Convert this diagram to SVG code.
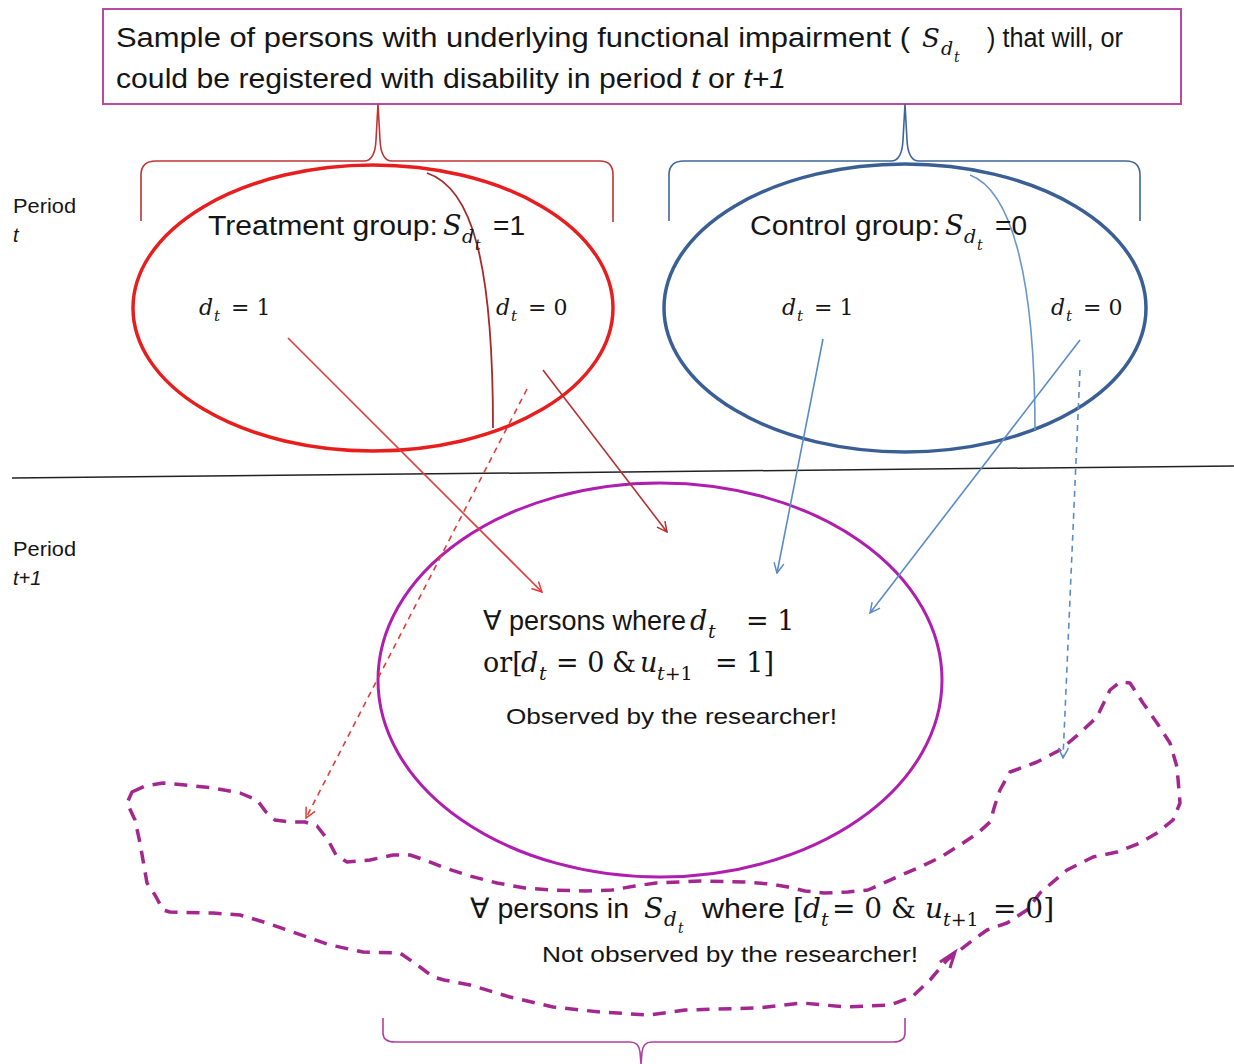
<svg xmlns="http://www.w3.org/2000/svg" width="1234" height="1064" viewBox="0 0 1234 1064">
<style>
.sans{font-family:"Liberation Sans","DejaVu Sans",sans-serif;fill:#151515}
.mi{font-family:"DejaVu Serif","Liberation Serif",serif;font-style:italic;fill:#151515}
.mr{font-family:"DejaVu Serif","Liberation Serif",serif;fill:#151515}
.it{font-style:italic}
</style>
<defs>
<marker id="ar" viewBox="0 0 12 12" refX="11" refY="6" markerWidth="12" markerHeight="12" markerUnits="userSpaceOnUse" orient="auto"><path d="M1,1 L11,6 L1,11" fill="none" stroke="#e33a3a" stroke-width="1.5"/></marker>
<marker id="ad" viewBox="0 0 12 12" refX="11" refY="6" markerWidth="12" markerHeight="12" markerUnits="userSpaceOnUse" orient="auto"><path d="M1,1 L11,6 L1,11" fill="none" stroke="#b83030" stroke-width="1.5"/></marker>
<marker id="ab" viewBox="0 0 12 12" refX="11" refY="6" markerWidth="12" markerHeight="12" markerUnits="userSpaceOnUse" orient="auto"><path d="M1,1 L11,6 L1,11" fill="none" stroke="#5a8bc8" stroke-width="1.5"/></marker>
</defs>
<rect width="1234" height="1064" fill="#fff"/>

<g id="top-box">
<rect x="103" y="9" width="1078" height="95" fill="#fff" stroke="#b84aa5" stroke-width="2"/>
<text class="sans" x="116" y="47" font-size="27" textLength="794" lengthAdjust="spacingAndGlyphs">Sample of persons with underlying functional impairment (</text>
<text class="mi" x="922" y="47" font-size="26">S</text>
<text class="mi" x="941" y="55" font-size="19">d</text>
<text class="mi" x="954" y="62" font-size="14">t</text>
<text class="sans" x="987" y="47" font-size="27" textLength="136" lengthAdjust="spacingAndGlyphs">) that will, or</text>
<text class="sans" x="116" y="88" font-size="27" textLength="670" lengthAdjust="spacingAndGlyphs">could be registered with disability in period <tspan class="it">t</tspan> or <tspan class="it">t+1</tspan></text>
</g>

<g id="period-labels">
<text class="sans" x="13" y="213" font-size="20" textLength="63" lengthAdjust="spacingAndGlyphs">Period</text>
<text class="sans it" x="13" y="242" font-size="20">t</text>
<text class="sans" x="13" y="556" font-size="20" textLength="63" lengthAdjust="spacingAndGlyphs">Period</text>
<text class="sans it" x="13" y="585" font-size="20">t+1</text>
</g>

<g id="divider">
<line x1="12" y1="478" x2="1234" y2="466" stroke="#222" stroke-width="1.5"/>
</g>

<g id="braces" fill="none" stroke-width="1.6">
<path d="M141,221 L141,175 Q141,161 156,161 L364,161 Q375,161 376,140 L378,104 L380,140 Q381,161 392,161 L600,161 Q613,161 613,175 L613,222" stroke="#c03434"/>
<path d="M669,221 L669,175 Q669,161 684,161 L891,161 Q902,161 903,140 L905,104 L907,140 Q908,161 919,161 L1126,161 Q1140,161 1140,175 L1140,221" stroke="#3f6699"/>
<path d="M383,1018 L383,1033 Q383,1042 395,1042 L630,1042 Q639,1042 640,1052 L641,1064 L642,1052 Q643,1042 652,1042 L893,1042 Q905,1042 905,1033 L905,1018" stroke="#b040a0"/>
</g>

<g id="treatment-group">
<ellipse cx="373" cy="308" rx="240" ry="143" fill="none" stroke="#e81e1e" stroke-width="3.5"/>
<path d="M427,173 C472,188 493,262 493,428" fill="none" stroke="#a52a2a" stroke-width="1.8"/>
<text class="sans" x="208" y="235" font-size="27" textLength="230" lengthAdjust="spacingAndGlyphs">Treatment group:</text>
<text class="mi" x="443" y="235" font-size="27">S</text>
<text class="mi" x="462" y="243" font-size="19">d</text>
<text class="mi" x="475" y="250" font-size="14">t</text>
<text class="sans" x="493" y="235" font-size="27" textLength="32" lengthAdjust="spacingAndGlyphs">=1</text>
<text class="mi" x="199" y="315" font-size="22">d</text>
<text class="mi" x="214" y="321" font-size="15">t</text>
<text class="mr" x="231" y="315" font-size="22">= 1</text>
<text class="mi" x="496" y="315" font-size="22">d</text>
<text class="mi" x="511" y="321" font-size="15">t</text>
<text class="mr" x="528" y="315" font-size="22">= 0</text>
</g>

<g id="control-group">
<ellipse cx="905" cy="308" rx="241" ry="144" fill="none" stroke="#3a5f94" stroke-width="3.5"/>
<path d="M970,175 C1010,190 1035,272 1035,430" fill="none" stroke="#6a96cc" stroke-width="1.6"/>
<text class="sans" x="750" y="235" font-size="27" textLength="190" lengthAdjust="spacingAndGlyphs">Control group:</text>
<text class="mi" x="945" y="235" font-size="27">S</text>
<text class="mi" x="964" y="243" font-size="19">d</text>
<text class="mi" x="977" y="250" font-size="14">t</text>
<text class="sans" x="995" y="235" font-size="27" textLength="32" lengthAdjust="spacingAndGlyphs">=0</text>
<text class="mi" x="782" y="315" font-size="22">d</text>
<text class="mi" x="797" y="321" font-size="15">t</text>
<text class="mr" x="814" y="315" font-size="22">= 1</text>
<text class="mi" x="1051" y="315" font-size="22">d</text>
<text class="mi" x="1066" y="321" font-size="15">t</text>
<text class="mr" x="1083" y="315" font-size="22">= 0</text>
</g>

<g id="observed">
<ellipse cx="660" cy="680" rx="282" ry="197" fill="none" stroke="#b01eb0" stroke-width="3"/>
<text class="sans" x="483" y="630" font-size="27" textLength="203" lengthAdjust="spacingAndGlyphs">∀ persons where</text>
<text class="mi" x="690" y="630" font-size="27">d</text>
<text class="mi" x="708" y="638" font-size="19">t</text>
<text class="mr" x="746" y="630" font-size="27">= 1</text>
<text class="mr" x="483" y="672" font-size="27">or[<tspan class="it" x="521">d</tspan><tspan class="it" x="539" y="680" font-size="19">t</tspan><tspan x="556" y="672">= 0</tspan><tspan x="612">&amp;</tspan><tspan class="it" x="640">u</tspan><tspan x="657" y="680" font-size="19"><tspan class="it">t</tspan>+1</tspan><tspan x="715" y="672">= 1]</tspan></text>
<text class="sans" x="506" y="724" font-size="22" textLength="331" lengthAdjust="spacingAndGlyphs">Observed by the researcher!</text>
</g>

<g id="not-observed">
<path d="M132,792 L145,786 L163,783 L185,785 L213,788 L240,793 L257,800 L266,812 L275,820 L290,822 L305,822 L317,826 L328,840 L336,855 L347,862 L370,860 L393,855 L410,855 L425,860 L445,868 L470,876 L497,883 L525,888 L553,890 L585,891 L612,890 L635,886 L656,883 L700,881 L744,882 L770,884 L788,887 L805,891 L824,893 L848,892 L868,890 L897,877 L920,867 L941,857 L960,845 L978,833 L990,822 L995,805 L1000,790 L1010,772 L1037,762 L1060,750 L1080,733 L1097,717 L1110,690 L1120,682 L1130,683 L1143,703 L1157,723 L1170,743 L1177,767 L1180,803 L1173,820 L1157,833 L1140,843 L1117,852 L1093,857 L1067,870 L1040,893 L1027,910 L1007,923 L987,930 L973,940 L947,960 L930,980 L912,997 L890,1005 L846,1007 L802,1003 L758,1008 L685,1010 L649,1015 L600,1012 L553,1007 L510,997 L470,985 L444,980 L433,977 L420,967 L400,953 L363,952 L330,945 L307,937 L267,923 L240,915 L213,913 L170,912 L163,910 L155,895 L147,883 L140,843 L135,820 L127,803 Z" fill="none" stroke="#a3278f" stroke-width="3.5" stroke-dasharray="13 9" stroke-linejoin="round"/>
<path d="M940,962 L955,952 L950,968" fill="none" stroke="#a3278f" stroke-width="3"/>
<text class="sans" x="470" y="918" font-size="28" textLength="159" lengthAdjust="spacingAndGlyphs">∀ persons in</text>
<text class="mi" x="644" y="918" font-size="28">S</text>
<text class="mi" x="664" y="926" font-size="20">d</text>
<text class="mi" x="678" y="933" font-size="14">t</text>
<text class="sans" x="702" y="918" font-size="28" textLength="83" lengthAdjust="spacingAndGlyphs">where</text>
<text class="mr" x="793" y="918" font-size="28">[<tspan class="it" x="803">d</tspan><tspan class="it" x="821" y="926" font-size="19">t</tspan><tspan x="832" y="918">= 0</tspan><tspan x="891">&amp;</tspan><tspan class="it" x="925">u</tspan><tspan x="943" y="926" font-size="19"><tspan class="it">t</tspan>+1</tspan><tspan x="993" y="918">= 0]</tspan></text>
<text class="sans" x="542" y="962" font-size="22" textLength="376" lengthAdjust="spacingAndGlyphs">Not observed by the researcher!</text>
</g>

<g id="connectors" fill="none">
<line x1="288" y1="338" x2="542" y2="592" stroke="#e33a3a" stroke-width="1.6" marker-end="url(#ar)"/>
<line x1="543" y1="370" x2="667" y2="532" stroke="#b83030" stroke-width="1.6" marker-end="url(#ad)"/>
<line x1="527" y1="389" x2="306" y2="818" stroke="#e33a3a" stroke-width="1.6" stroke-dasharray="6 5" marker-end="url(#ar)"/>
<line x1="823" y1="339" x2="777" y2="573" stroke="#5a8bc8" stroke-width="1.6" marker-end="url(#ab)"/>
<line x1="1080" y1="340" x2="870" y2="613" stroke="#5a8bc8" stroke-width="1.6" marker-end="url(#ab)"/>
<line x1="1080" y1="370" x2="1063" y2="758" stroke="#5a8bc8" stroke-width="1.6" stroke-dasharray="6 5" marker-end="url(#ab)"/>
</g>
</svg>
